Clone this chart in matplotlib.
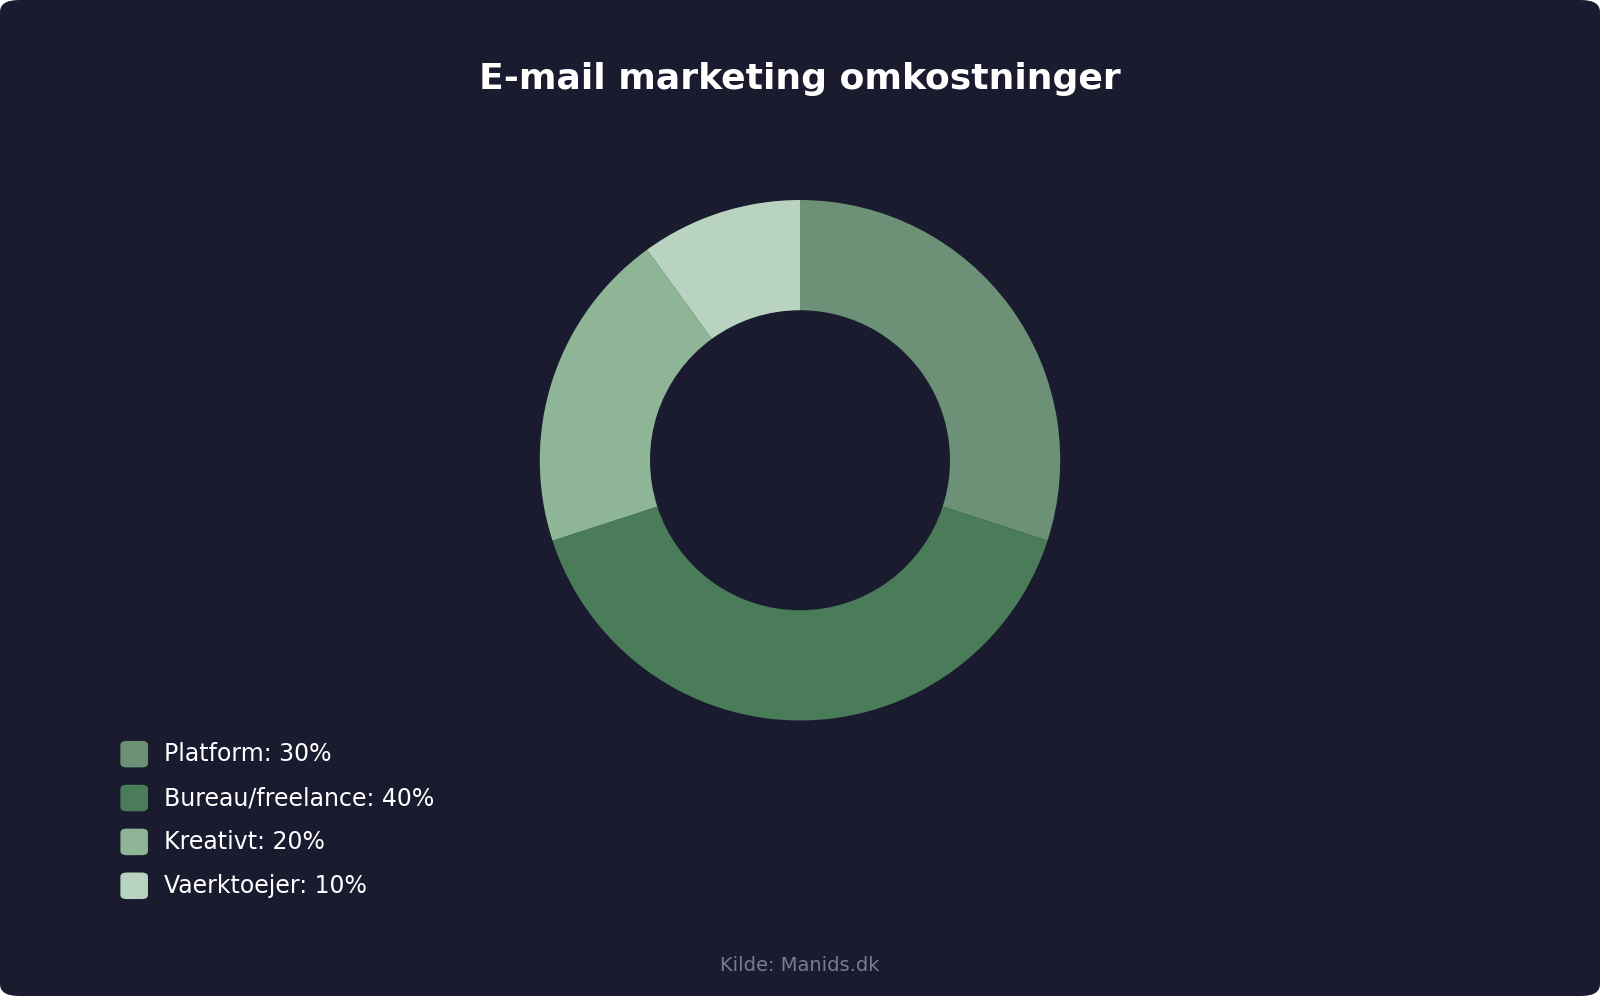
import matplotlib.pyplot as plt
from matplotlib.patches import FancyBboxPatch

labels = ["Platform", "Bureau/freelance", "Kreativt", "Vaerktoejer"]
values = [30, 40, 20, 10]
colors = ["#6d9177", "#4a7c59", "#8db596", "#b8d4c0"]

W, H = 1568, 976  # reference pixel frame
bg = "#1a1b2e"

fig = plt.figure(figsize=(16, 9.96), dpi=100)
fig.patch.set_facecolor("white")
fig.patches.append(FancyBboxPatch((0.0, 0.0), 1.0, 1.0,
                                  boxstyle="round,pad=0,rounding_size=0.012",
                                  transform=fig.transFigure, facecolor=bg,
                                  edgecolor="none", zorder=-10))

cx, cy, r = 784 / W, 1 - 451 / H, 255 / H
h = 2 * r
w = h * 996 / 1600
ax = fig.add_axes([cx - w / 2, cy - r, w, h])
ax.pie(values, colors=colors, startangle=90, counterclock=False, radius=1,
       wedgeprops=dict(width=108 / 255, edgecolor="none"))
ax.set_xlim(-1, 1)
ax.set_ylim(-1, 1)
ax.set_aspect("equal")
ax.axis("off")

fig.text(0.5, 1 - 77 / H, "E-mail marketing omkostninger", ha="center", va="center",
         color="white", fontsize=26, fontweight="bold")

for i, (lab, v, c) in enumerate(zip(labels, values, colors)):
    y = 1 - (739 + 43 * i) / H
    fig.patches.append(FancyBboxPatch((118 / W, y - 13 / H), 27 / W, 26 / H,
                                      boxstyle="round,pad=0,rounding_size=0.004",
                                      transform=fig.transFigure, facecolor=c,
                                      edgecolor="none"))
    fig.text(161 / W, y, f"{lab}: {v}%", ha="left", va="center",
             color="white", fontsize=17)

fig.text(0.5, 1 - 946 / H, "Kilde: Manids.dk", ha="center", va="center",
         color="#7a7b8c", fontsize=14)

fig.savefig("out.png", dpi=100, facecolor=fig.get_facecolor())
